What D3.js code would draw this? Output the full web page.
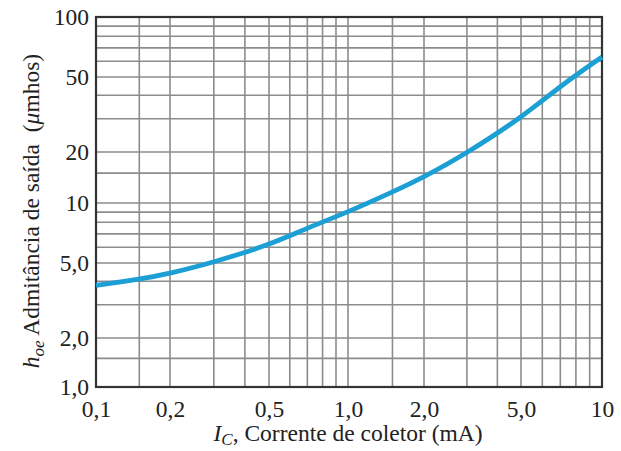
<!DOCTYPE html>
<html>
<head>
<meta charset="utf-8">
<script src="https://cdn.jsdelivr.net/npm/d3@7"></script>
<style>
  html, body { margin: 0; padding: 0; background: #fff; }
  svg { display: block; }
  text { font-family: "Liberation Serif", "DejaVu Serif", serif; fill: #222; }
</style>
</head>
<body>
<svg id="chart" width="621" height="451"></svg>
<script>
// Collector current (mA) and output admittance hoe (µmhos)
const currentMA = [0.1, 0.15, 0.2, 0.3, 0.5, 0.7, 1.0, 1.5, 2.0, 3.0, 5.0, 7.0, 10];
const hoeMicromhos = [3.8, 4.1, 4.4, 5.05, 6.15, 7.5, 9.0, 11.6, 14.2, 19.7, 30.3, 44.8, 63];

// Tick values and their printed labels
const xTickValues = [0.1, 0.2, 0.5, 1, 2, 5, 10];
const xTickLabels = ["0,1", "0,2", "0,5", "1,0", "2,0", "5,0", "10"];
const yTickValues = [1, 2, 5, 10, 20, 50, 100];
const yTickLabels = ["1,0", "2,0", "5,0", "10", "20", "50", "100"];

// Grid lines of the log paper
const xGridValues = [0.1, 0.15, 0.2, 0.3, 0.4, 0.5, 0.6, 0.7, 0.8, 0.9,
                     1, 1.5, 2, 3, 4, 5, 6, 7, 8, 9, 10];
const yGridValues = [1, 1.5, 2, 3, 4, 5, 6, 7, 8, 9,
                     10, 15, 20, 30, 40, 50, 60, 70, 80, 90, 100];

const svg = d3.select("#chart");

const plotLeft = 96, plotRight = 602, plotTop = 17, plotBottom = 387;
const fontSize = 23.5;

// Piecewise log scales (the printed paper's decades are not all equal)
const x = d3.scaleLog()
  .domain(xTickValues)
  .range([plotLeft, 170, 269, 348, 424, 521, plotRight]);
const y = d3.scaleLog()
  .domain(yTickValues)
  .range([plotBottom, 338, 263, 203, 152, 77, plotTop]);

const grid = svg.append("g").attr("stroke", "#8c8c8c").attr("stroke-width", 1.6);
grid.selectAll("line.v").data(xGridValues).join("line")
  .attr("class", "v")
  .attr("x1", d => x(d)).attr("x2", d => x(d))
  .attr("y1", plotTop).attr("y2", plotBottom);
grid.selectAll("line.h").data(yGridValues).join("line")
  .attr("class", "h")
  .attr("x1", plotLeft).attr("x2", plotRight)
  .attr("y1", d => y(d)).attr("y2", d => y(d));

// Frame
svg.append("rect")
  .attr("x", plotLeft).attr("y", plotTop)
  .attr("width", plotRight - plotLeft).attr("height", plotBottom - plotTop)
  .attr("fill", "none").attr("stroke", "#333").attr("stroke-width", 2.2);

// Curve (B-spline through the read points for a smooth printed trace)
const line = d3.line()
  .x((d, i) => x(currentMA[i]))
  .y(d => y(d))
  .curve(d3.curveBasis);
svg.append("path")
  .datum(hoeMicromhos)
  .attr("d", line)
  .attr("fill", "none")
  .attr("stroke", "#1c9fd4")
  .attr("stroke-width", 4.8)
  .attr("stroke-linecap", "butt");

// Axes (labels only; the frame and grid carry the lines)
const xAxis = d3.axisBottom(x)
  .tickValues(xTickValues)
  .tickFormat((d, i) => xTickLabels[i])
  .tickSize(0).tickPadding(13);
const gx = svg.append("g").attr("transform", `translate(0,${plotBottom})`).call(xAxis);
gx.select(".domain").remove();
gx.selectAll("text").attr("font-size", fontSize).attr("fill", "#222")
  .attr("font-family", "Liberation Serif");

const yAxis = d3.axisLeft(y)
  .tickValues(yTickValues)
  .tickFormat((d, i) => yTickLabels[i])
  .tickSize(0).tickPadding(7);
const gy = svg.append("g").attr("transform", `translate(${plotLeft},0)`).call(yAxis);
gy.select(".domain").remove();
gy.selectAll("text").attr("font-size", fontSize).attr("fill", "#222")
  .attr("font-family", "Liberation Serif");

// X title
const xt = svg.append("text")
  .attr("x", 348).attr("y", 441)
  .attr("text-anchor", "middle")
  .attr("font-size", fontSize);
xt.append("tspan").attr("font-style", "italic").text("I");
xt.append("tspan").attr("font-style", "italic").attr("font-size", 17)
  .attr("baseline-shift", "-4").text("C");
xt.append("tspan").text(", Corrente de coletor (mA)");

// Y title
const yt = svg.append("text")
  .attr("transform", "translate(39,211) rotate(-90)")
  .attr("text-anchor", "middle")
  .attr("font-size", fontSize);
yt.append("tspan").attr("font-style", "italic").text("h");
yt.append("tspan").attr("font-style", "italic").attr("font-size", 17)
  .attr("baseline-shift", "-5").text("oe");
yt.append("tspan").text(" Admitância de saída\u00A0\u00A0(");
yt.append("tspan").attr("font-style", "italic").text("μ");
yt.append("tspan").text("mhos)");
</script>
</body>
</html>
